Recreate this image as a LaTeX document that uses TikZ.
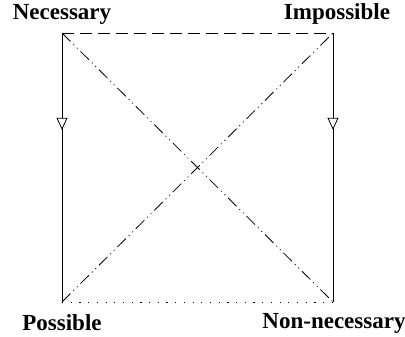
\documentclass[tikz,border=0pt]{standalone}
\usepackage{fontspec}
\setmainfont{Liberation Serif}
\usetikzlibrary{arrows.meta,decorations.markings}
\begin{document}
\begin{tikzpicture}[x=1pt,y=-1pt,
  lbl/.style={font=\fontsize{23}{27}\selectfont\bfseries, inner sep=0pt},
  edge/.style={line width=0.8pt},
  flowdown/.style={edge, postaction={decorate}, decoration={markings,
     mark=at position 0.36 with {\arrow{Triangle[open, length=12pt, width=11pt, fill=white, line width=0.8pt]}}}},
  dashdd/.style={edge, dash pattern=on 12pt off 4pt on 1pt off 4pt on 1pt off 4pt},
]
\useasboundingbox (0,0) rectangle (405,337);
\coordinate (nec) at (62,33);
\coordinate (imp) at (333,33);
\coordinate (pos) at (62,302);
\coordinate (non) at (333,302);
\node[lbl] (necL) at (62,14) {Necessary};
\node[lbl] (impL) at (337,14) {Impossible};
\node[lbl] (posL) at (62,323) {Possible};
\node[lbl] (nonL) at (334,323) {Non-necessary};
\draw[edge, dash pattern=on 12pt off 6pt] (nec) -- (imp);
\draw[edge, dash pattern=on 1.2pt off 7.5pt] (pos) -- (non);
\draw[dashdd] (nec) -- (non);
\draw[dashdd] (pos) -- (imp);
\draw[flowdown] (nec) -- (pos);
\draw[flowdown] (imp) -- (non);
\end{tikzpicture}
\end{document}
